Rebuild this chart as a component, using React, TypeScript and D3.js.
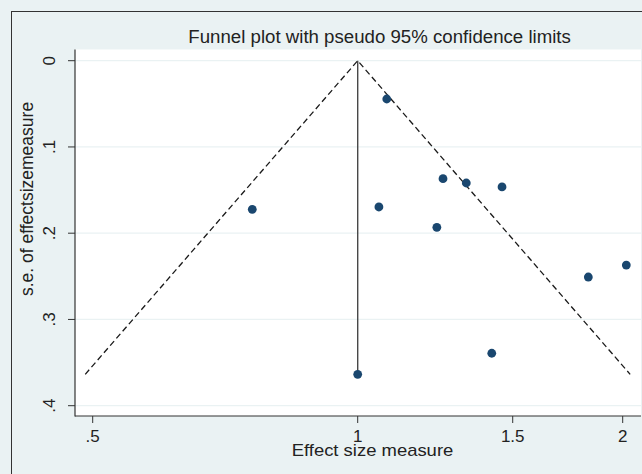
import React from 'react';
import * as d3 from 'd3';

// study estimates (effect size, standard error)
const effectSizes = [1.079, 0.759, 1.057, 1.25, 1.23, 1.3285, 1.4586, 1.828, 2.019, 1.42, 1.0];
const standardErrors = [0.0444, 0.1723, 0.1696, 0.1368, 0.1932, 0.1418, 0.1464, 0.2508, 0.2369, 0.3392, 0.3636];
const pooledEffect = 1.0;
const xTicks = [0.5, 1, 1.5, 2];
const xTickLabels = ['.5', '1', '1.5', '2'];
const yTicks = [0, 0.1, 0.2, 0.3, 0.4];
const yTickLabels = ['0', '.1', '.2', '.3', '.4'];

const width = 642;
const height = 474;
const plotLeft = 75;
const plotRight = 641;
const plotTop = 49.5;
const plotBottom = 416;
const font = '"Liberation Sans", Arial, Helvetica, sans-serif';
const navy = '#1a476f';
const bg = '#eaf2f3';

const App = () => {
    const xScale = d3.scaleLog().domain([0.5, 2]).range([92.7, 622.7]);
    const yScale = d3.scaleLinear().domain([0, 0.4]).range([60.7, 405.7]);

    const points = effectSizes.map((e, i) => ({x: e, y: standardErrors[i]}));
    const seMax = d3.max(standardErrors) as number;
    const lnPooled = Math.log(pooledEffect);

    // pseudo 95% limits
    const funnel = [
        {x: Math.exp(lnPooled - 1.96 * seMax), y: seMax},
        {x: pooledEffect, y: 0},
        {x: Math.exp(lnPooled + 1.96 * seMax), y: seMax},
    ];
    const line = d3.line<{x: number, y: number}>()
        .x(d => xScale(d.x))
        .y(d => yScale(d.y));

    return (
        <svg width={width} height={height}
             style={{position: 'absolute', left: 0, top: 0, display: 'block'}}
             fontFamily={font}>
            <rect x={0} y={0} width={width} height={height} fill={bg}/>
            <rect x={11.5} y={11.5} width={width + 50} height={height + 50} fill={bg} stroke="#333" strokeWidth={1}/>
            <rect x={plotLeft} y={plotTop} width={plotRight - plotLeft} height={plotBottom - plotTop} fill="#fff"/>

            {/* grid */}
            {yTicks.map(t => (
                <line key={'g' + t} x1={plotLeft} x2={plotRight} y1={yScale(t)} y2={yScale(t)}
                      stroke={bg} strokeWidth={1.2}/>
            ))}

            {/* funnel + pooled line */}
            <path d={line(funnel) as string} fill="none" stroke="#1a1a1a" strokeWidth={1.3} strokeDasharray="6,3.5"/>
            <line x1={xScale(pooledEffect)} x2={xScale(pooledEffect)} y1={yScale(0)} y2={yScale(seMax)}
                  stroke="#484848" strokeWidth={1.4}/>

            {points.map((d, i) => (
                <circle key={i} cx={xScale(d.x)} cy={yScale(d.y)} r={4.4} fill={navy}/>
            ))}

            {/* axes */}
            <line x1={plotLeft} x2={plotLeft} y1={plotTop} y2={plotBottom + 0.5} stroke="#333" strokeWidth={1.2}/>
            <line x1={plotLeft} x2={plotRight} y1={plotBottom} y2={plotBottom} stroke="#333" strokeWidth={1.2}/>
            {yTicks.map((t, i) => (
                <g key={'y' + t}>
                    <line x1={plotLeft - 7} x2={plotLeft} y1={yScale(t)} y2={yScale(t)} stroke="#333" strokeWidth={1}/>
                    <text transform={`translate(55,${yScale(t)}) rotate(-90)`} textAnchor="middle"
                          fontSize={17} fill="#222">{yTickLabels[i]}</text>
                </g>
            ))}
            {xTicks.map((t, i) => (
                <g key={'x' + t}>
                    <line x1={xScale(t)} x2={xScale(t)} y1={plotBottom} y2={plotBottom + 7} stroke="#333" strokeWidth={1}/>
                    <text x={xScale(t)} y={441.5} textAnchor="middle" fontSize={17} fill="#222">{xTickLabels[i]}</text>
                </g>
            ))}

            <text x={372.5} y={456} textAnchor="middle" fontSize={17} fill="#222"
                  textLength={161.6} lengthAdjust="spacingAndGlyphs">Effect size measure</text>
            <text transform="translate(33,199) rotate(-90)" textAnchor="middle" fontSize={17.5} fill="#222">
                s.e. of effectsizemeasure
            </text>
            <text x={379.6} y={42.7} textAnchor="middle" fontSize={17.5} fill="#222"
                  textLength={382.6} lengthAdjust="spacingAndGlyphs">Funnel plot with pseudo 95% confidence limits</text>
        </svg>
    );
};

export default App;
